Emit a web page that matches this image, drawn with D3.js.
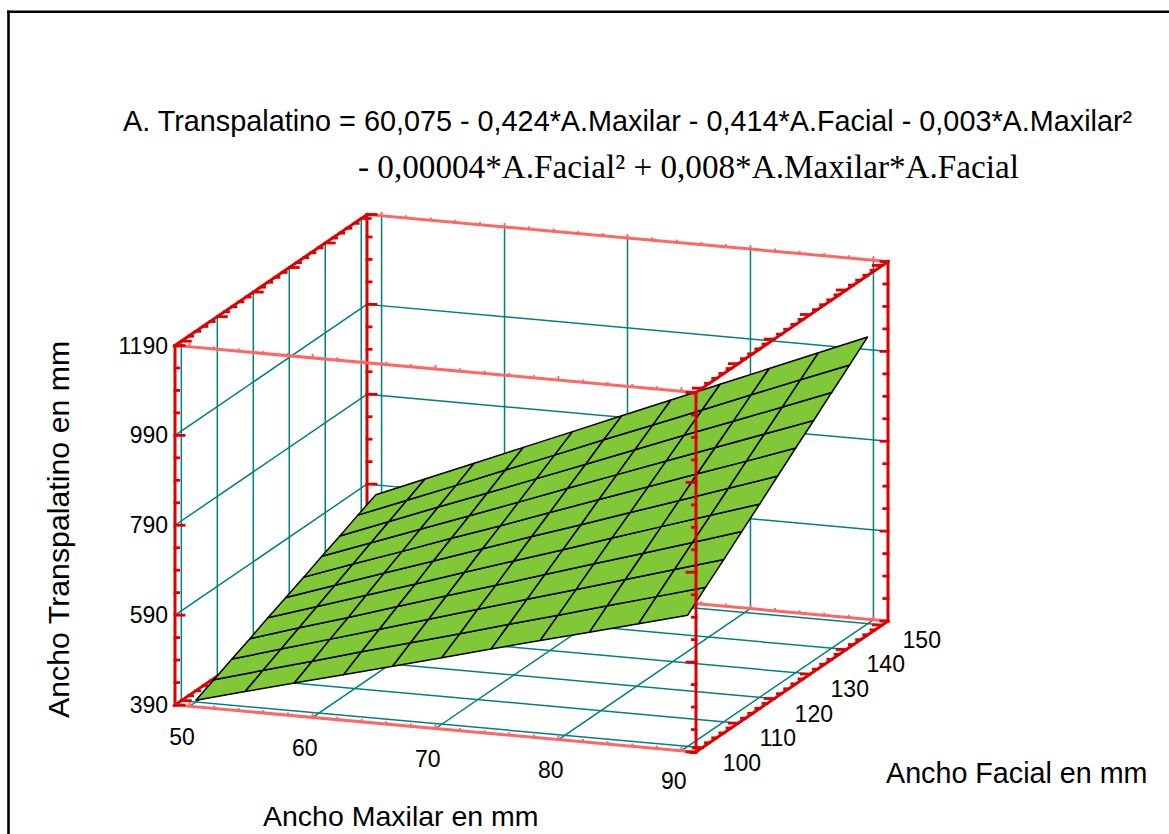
<!DOCTYPE html>
<html>
<head>
<meta charset="utf-8">
<script src="https://cdn.jsdelivr.net/npm/d3@7"></script>
<style>
  html, body {margin: 0; padding: 0; background: #fff; overflow: hidden;}
  text {font-family: "Liberation Sans", Arial, sans-serif; fill: #000;}
</style>
</head>
<body>
<script>
//Data
const maxilarTicks = [50, 60, 70, 80, 90];
const facialTicks = [100, 110, 120, 130, 140, 150];
const transTicks = [390, 590, 790, 990, 1190];
const maxilarGrid = [50, 54, 58, 62, 66, 70, 74, 78, 82, 86, 90];
const facialGrid = [100, 105, 110, 115, 120, 125, 130, 135, 140, 145, 150];
//One row per facialGrid value, one column per maxilarGrid value
const surfaceZ = [
  [394, 423, 452, 480, 509, 538, 567, 596, 624, 653, 682],
  [412, 443, 473, 504, 534, 564, 595, 625, 656, 686, 717],
  [431, 463, 495, 527, 559, 591, 623, 655, 687, 719, 751],
  [449, 483, 516, 550, 584, 617, 651, 685, 718, 752, 786],
  [468, 503, 538, 573, 609, 644, 679, 715, 750, 785, 820],
  [486, 523, 560, 597, 634, 671, 707, 744, 781, 818, 855],
  [504, 543, 581, 620, 658, 697, 736, 774, 813, 851, 890],
  [523, 563, 603, 643, 683, 724, 764, 804, 844, 884, 924],
  [541, 583, 625, 666, 708, 750, 792, 834, 875, 917, 959],
  [560, 603, 646, 690, 733, 777, 820, 863, 907, 950, 993],
  [578, 623, 668, 713, 758, 803, 848, 893, 938, 983, 1028]
];

//Variables
const w = 1169, h = 834;
const red = "#dd0000", pink = "#ff6666", teal = "#008080", green = "#80c838";

//Scales, each gives the fraction along its box edge
const xScale = d3.scaleLinear().domain([50, 90]).range([0.028, 0.972]);
const yScale = d3.scaleLinear().domain([100, 150]).range([0.033, 0.97]);
const zScale = d3.scaleLinear().domain([390, 1190]).range([0, 1]);

//Oblique view of the box
function proj(u, v, t) {
  return [175 + 521 * u + 192 * v, 705 + 47 * u - 131 * v - 359.5 * t];
}
function project(x, y, z) {
  return proj(xScale(x), yScale(y), zScale(z));
}

const svg = d3.select("body").append("svg").attr("width", w).attr("height", h);
const line = d3.line();

function seg(g, a, b, color, width) {
  g.append("line").attr("x1", a[0]).attr("y1", a[1]).attr("x2", b[0]).attr("y2", b[1])
    .attr("stroke", color).attr("stroke-width", width).attr("stroke-linecap", "square");
}

//Outer frame, only top and left are visible
svg.append("line").attr("x1", 7).attr("x2", w).attr("y1", 11.7).attr("y2", 11.7).attr("stroke", "#000").attr("stroke-width", 2.6);
svg.append("line").attr("x1", 8.5).attr("x2", 8.5).attr("y1", 10.5).attr("y2", h).attr("stroke", "#000").attr("stroke-width", 2.6);

//Grid on the walls and the floor
const grid = svg.append("g");
maxilarTicks.forEach(function(d) {
  const u = xScale(d);
  seg(grid, proj(u, 1, 0), proj(u, 1, 1), teal, 1.5);
  seg(grid, proj(u, 0, 0), proj(u, 1, 0), teal, 1.5);
});
facialTicks.forEach(function(d) {
  const v = yScale(d);
  seg(grid, proj(0, v, 0), proj(0, v, 1), teal, 1.5);
  seg(grid, proj(0, v, 0), proj(1, v, 0), teal, 1.5);
});
transTicks.forEach(function(d) {
  const t = zScale(d);
  seg(grid, proj(0, 0, t), proj(0, 1, t), teal, 1.5);
  seg(grid, proj(0, 1, t), proj(1, 1, t), teal, 1.5);
});

//Tick marks for one box edge. dx,dy is the direction of a major tick
function edgeTicks(g, domain, step, majors, pos, color, dx, dy, minorScale, width) {
  for (let d = domain[0]; d <= domain[1]; d += step) {
    const p = pos(d);
    const k = majors.includes(d) ? 1 : minorScale;
    seg(g, p, [p[0] + dx * k, p[1] + dy * k], color, width);
  }
}
const facialRange = [98, 150];
const maxilarRange = [50, 90];

function drawBackEdges(g) {
  seg(g, proj(0, 1, 0), proj(0, 1, 1), red, 3);
  seg(g, proj(0, 0, 0), proj(0, 1, 0), red, 3);
  seg(g, proj(0, 1, 0), proj(1, 1, 0), pink, 3);
  seg(g, proj(0, 1, 1), proj(1, 1, 1), pink, 3);
  edgeTicks(g, [390, 1190], 50, transTicks, function(d) {return proj(0, 1, zScale(d));}, red, 9, 0, 0.45, 2.8);
  edgeTicks(g, facialRange, 2, facialTicks, function(d) {return proj(0, yScale(d), 0);}, red, 9, 0, 0.45, 2.8);
  edgeTicks(g, maxilarRange, 2, maxilarTicks, function(d) {return proj(xScale(d), 1, 0);}, pink, 0, -3, 0.6, 2);
  edgeTicks(g, maxilarRange, 2, maxilarTicks, function(d) {return proj(xScale(d), 1, 1);}, pink, 0, -3, 0.6, 2);
}
drawBackEdges(svg.append("g"));

//Surface
const surface = svg.append("g");
for (let j = 0; j < facialGrid.length - 1; j++) {
  for (let i = 0; i < maxilarGrid.length - 1; i++) {
    const cell = [
      project(maxilarGrid[i], facialGrid[j], surfaceZ[j][i]),
      project(maxilarGrid[i + 1], facialGrid[j], surfaceZ[j][i + 1]),
      project(maxilarGrid[i + 1], facialGrid[j + 1], surfaceZ[j + 1][i + 1]),
      project(maxilarGrid[i], facialGrid[j + 1], surfaceZ[j + 1][i])
    ];
    surface.append("path").attr("d", line(cell) + "Z")
      .attr("fill", green).attr("stroke", "#000").attr("stroke-width", 1.5).attr("stroke-linejoin", "round");
  }
}

//Front edges go over the surface
const front = svg.append("g");
seg(front, proj(0, 0, 0), proj(0, 0, 1), red, 3);
seg(front, proj(1, 0, 0), proj(1, 0, 1), red, 3);
seg(front, proj(1, 1, 0), proj(1, 1, 1), red, 3);
seg(front, proj(0, 1, 1), proj(0, 0, 1), red, 3);
seg(front, proj(1, 0, 0), proj(1, 1, 0), red, 3);
seg(front, proj(1, 0, 1), proj(1, 1, 1), red, 3);
seg(front, proj(0, 0, 0), proj(1, 0, 0), pink, 3);
seg(front, proj(0, 0, 1), proj(1, 0, 1), pink, 3);
edgeTicks(front, [390, 1190], 50, transTicks, function(d) {return proj(0, 0, zScale(d));}, red, 9, 0, 0.4, 2.8);
edgeTicks(front, [390, 1190], 50, transTicks, function(d) {return proj(1, 0, zScale(d));}, red, -9, 0, 0.4, 2.8);
edgeTicks(front, [390, 1190], 50, transTicks, function(d) {return proj(1, 1, zScale(d));}, red, -7, 0, 0.6, 2.8);
edgeTicks(front, facialRange, 2, facialTicks, function(d) {return proj(0, yScale(d), 1);}, red, 9, 0, 0.45, 2.8);
edgeTicks(front, facialRange, 2, facialTicks, function(d) {return proj(1, yScale(d), 0);}, red, -9, 0, 0.45, 2.8);
edgeTicks(front, facialRange, 2, facialTicks, function(d) {return proj(1, yScale(d), 1);}, red, -9, 0, 0.45, 2.8);
edgeTicks(front, maxilarRange, 2, maxilarTicks, function(d) {return proj(xScale(d), 0, 0);}, pink, 0, -3, 0.6, 2);
edgeTicks(front, maxilarRange, 2, maxilarTicks, function(d) {return proj(xScale(d), 0, 1);}, pink, 0, -3, 0.6, 2);

//Tick labels
const labels = svg.append("g").attr("font-size", 23);
transTicks.forEach(function(d) {
  const p = proj(0, 0, zScale(d));
  labels.append("text").text(d).attr("x", 168).attr("y", p[1] + 8).attr("text-anchor", "end");
});
maxilarTicks.forEach(function(d) {
  const p = project(d, 100, 390);
  labels.append("text").text(d).attr("x", p[0] - 14).attr("y", p[1] + 43).attr("text-anchor", "middle");
});
facialTicks.forEach(function(d) {
  const p = proj(1, yScale(d), 0);
  labels.append("text").text(d).attr("x", p[0] + 39.5).attr("y", p[1] + 23).attr("text-anchor", "middle");
});

//Titles
svg.append("text").text("A. Transpalatino = 60,075 - 0,424*A.Maxilar - 0,414*A.Facial - 0,003*A.Maxilar²")
  .attr("x", 123).attr("y", 131).attr("font-size", 28.8);
svg.append("text").text("- 0,00004*A.Facial² + 0,008*A.Maxilar*A.Facial")
  .attr("x", 358).attr("y", 178).attr("font-size", 33.2).style("font-family", "'Liberation Serif', serif");
svg.append("text").text("Ancho Maxilar en mm").attr("x", 263).attr("y", 826).attr("font-size", 28.5);
svg.append("text").text("Ancho Facial en mm").attr("x", 886).attr("y", 783).attr("font-size", 28.7);
svg.append("text").text("Ancho Transpalatino en mm")
  .attr("transform", "translate(69,718) rotate(-90)").attr("font-size", 30.3);
</script>
</body>
</html>
